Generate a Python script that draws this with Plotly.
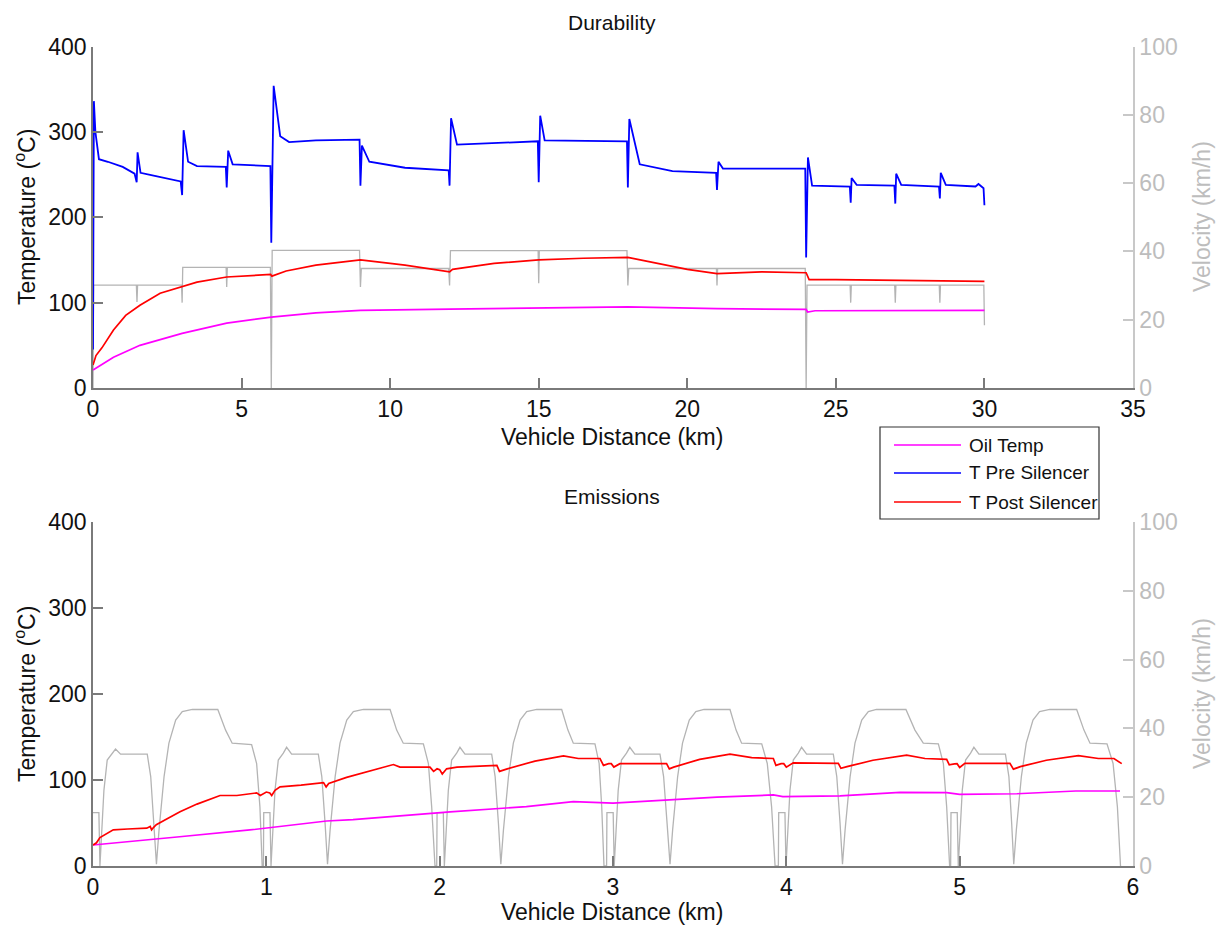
import plotly.graph_objects as go

W, H = 1220, 926

# ---------------- Durability run (0-30 km) ----------------
dur_vel_km = [0.0, 0.02, 1.46, 1.48, 1.50, 2.98, 3.00, 3.02, 4.48, 4.50, 4.52, 5.97, 6.00, 6.03,
              8.97, 9.00, 9.03, 11.97, 12.00, 12.03, 14.98, 15.00, 15.02, 17.97, 18.00, 18.03,
              20.98, 21.00, 21.02, 23.97, 24.00, 24.03, 25.48, 25.50, 25.52, 26.98, 27.00, 27.02,
              28.48, 28.50, 28.52, 29.98, 30.00]
dur_vel = [0, 30.1, 30.1, 25.2, 30.1, 30.1, 25.0, 35.3, 35.3, 29.6, 35.3, 35.3, 0, 40.3,
           40.3, 29.6, 35.0, 35.0, 30.0, 40.2, 40.2, 30.7, 40.2, 40.2, 30.0, 35.0,
           35.0, 30.0, 35.0, 35.0, 0, 30.1, 30.1, 25.0, 30.1, 30.1, 25.0, 30.1,
           30.1, 25.0, 30.1, 30.1, 18.4]

dur_pre_km = [0.0, 0.03, 0.08, 0.20, 0.50, 1.00, 1.40, 1.47, 1.50, 1.60, 2.00, 2.95, 3.00, 3.05,
              3.20, 3.50, 4.47, 4.50, 4.55, 4.70, 5.97, 6.00, 6.08, 6.30, 6.60, 7.50, 8.97,
              9.00, 9.05, 9.30, 10.50, 11.97, 12.00, 12.05, 12.25, 13.50, 14.97, 15.00, 15.05,
              15.20, 17.97, 18.00, 18.05, 18.40, 19.50, 20.97, 21.00, 21.05, 21.20, 23.97,
              24.00, 24.06, 24.20, 25.47, 25.50, 25.53, 25.70, 26.97, 27.00, 27.03, 27.20,
              28.47, 28.50, 28.53, 28.70, 29.70, 29.80, 29.97, 30.00]
dur_pre = [45, 336, 300, 268, 265, 259, 251, 241, 276, 252, 249, 242, 226, 302,
           265, 260, 259, 235, 278, 262, 260, 170, 354, 295, 288, 290, 291,
           237, 284, 265, 258, 255, 237, 316, 285, 287, 289, 241, 319,
           290, 289, 235, 315, 262, 254, 252, 232, 265, 257, 257,
           153, 270, 237, 236, 217, 246, 238, 237, 216, 251, 238,
           236, 222, 252, 238, 236, 239, 234, 214]

dur_post_km = [0.0, 0.10, 0.30, 0.69, 1.10, 1.58, 2.26, 3.00, 3.50, 4.50, 5.50, 5.98, 6.02,
               6.50, 7.50, 9.00, 10.50, 12.00, 12.10, 13.50, 15.00, 16.50, 18.00, 19.00,
               20.00, 21.00, 22.50, 24.00, 24.10, 25.00, 30.00]
dur_post = [27, 38, 47, 68, 85, 97, 111, 118.5, 124, 130, 132, 133, 131,
            137, 144, 150, 144, 136, 139, 146, 150, 152, 153, 146,
            139, 134, 136, 135, 127, 127, 125]

dur_oil_km = [0.0, 0.69, 1.58, 3.00, 4.50, 6.00, 7.50, 9.00, 12.00, 15.00, 18.00, 21.00,
              24.00, 24.05, 24.30, 30.00]
dur_oil = [21, 36, 50, 64, 76, 83, 88, 91, 92.5, 94, 95, 93,
           92, 89, 90.5, 91]

# ---------------- Emissions run (0-6 km) ----------------
emi_vel_km = [
    0.000, 0.034, 0.040, 0.063, 0.082, 0.111, 0.130, 0.159, 0.313, 0.333, 0.352, 0.366,
    0.381, 0.410, 0.438, 0.477, 0.515, 0.573, 0.720, 0.765, 0.803, 0.915, 0.944, 0.963, 0.976,
    0.983, 0.985, 1.021, 1.027, 1.050, 1.069, 1.098, 1.117, 1.146, 1.300, 1.320, 1.339, 1.353,
    1.368, 1.397, 1.425, 1.464, 1.502, 1.560, 1.714, 1.752, 1.790, 1.906, 1.935, 1.954, 1.973,
    1.983, 1.985, 2.021, 2.027, 2.050, 2.069, 2.098, 2.117, 2.146, 2.300, 2.320, 2.339, 2.353,
    2.368, 2.397, 2.425, 2.464, 2.502, 2.560, 2.704, 2.740, 2.771, 2.896, 2.920, 2.935, 2.948,
    2.963, 2.965, 3.001, 3.007, 3.030, 3.049, 3.078, 3.097, 3.126, 3.271, 3.292, 3.312, 3.329,
    3.344, 3.373, 3.401, 3.440, 3.478, 3.525, 3.675, 3.710, 3.742, 3.858, 3.890, 3.915, 3.935,
    3.954, 3.956, 3.992, 3.998, 4.021, 4.040, 4.069, 4.088, 4.117, 4.271, 4.291, 4.310, 4.324,
    4.339, 4.368, 4.396, 4.435, 4.473, 4.520, 4.690, 4.742, 4.790, 4.877, 4.906, 4.925, 4.942,
    4.948, 4.950, 4.986, 4.992, 5.015, 5.034, 5.063, 5.082, 5.111, 5.264, 5.284, 5.300, 5.312,
    5.327, 5.356, 5.384, 5.423, 5.461, 5.520, 5.675, 5.717, 5.752, 5.850, 5.885, 5.910, 5.928]
emi_vel = [
    15.5, 15.5, 0, 22.0, 30.8, 32.8, 34.0, 32.5, 32.5, 26.0, 12.4, 0.5,
    10.5, 26.0, 35.7, 42.4, 44.9, 45.5, 45.5, 39.5, 35.7, 35.3, 29.8, 17.2, 0,
    0, 15.5, 15.5, 0, 22.0, 30.8, 32.8, 34.5, 32.5, 32.5, 26.0, 12.4, 0.5,
    10.5, 26.0, 35.7, 42.4, 44.9, 45.5, 45.5, 39.5, 35.7, 35.5, 29.8, 17.2, 0,
    0, 15.5, 15.5, 0, 22.0, 30.8, 32.8, 34.5, 32.5, 32.5, 26.0, 12.4, 0.5,
    10.5, 26.0, 35.7, 42.4, 44.9, 45.5, 45.5, 39.5, 35.7, 35.5, 29.8, 17.2, 0,
    0, 15.5, 15.5, 0, 22.0, 30.8, 32.8, 34.5, 32.5, 32.5, 26.0, 12.4, 0.5,
    10.5, 26.0, 35.7, 42.4, 44.9, 45.5, 45.5, 39.5, 35.7, 35.5, 29.8, 17.2, 0,
    0, 15.5, 15.5, 0, 22.0, 30.8, 32.8, 34.5, 32.5, 32.5, 26.0, 12.4, 0.5,
    10.5, 26.0, 35.7, 42.4, 44.9, 45.5, 45.5, 39.5, 35.7, 35.5, 29.8, 17.2, 0,
    0, 15.5, 15.5, 0, 22.0, 30.8, 32.8, 34.5, 32.5, 32.5, 26.0, 12.4, 0.5,
    10.5, 26.0, 35.7, 42.4, 44.9, 45.5, 45.5, 39.5, 35.7, 35.5, 29.8, 17.2, 0]

emi_post_km = [0.0, 0.02, 0.04, 0.079, 0.117, 0.20, 0.31, 0.33, 0.338, 0.35, 0.365, 0.42, 0.502,
               0.60, 0.733, 0.83, 0.944, 0.965, 0.98, 1.00, 1.02, 1.031, 1.05, 1.079, 1.20,
               1.33, 1.345, 1.36, 1.463, 1.60, 1.733, 1.771, 1.944, 1.965, 1.985, 2.00, 2.015,
               2.04, 2.10, 2.33, 2.345, 2.39, 2.55, 2.714, 2.80, 2.925, 2.945, 2.975, 2.99,
               3.005, 3.04, 3.309, 3.325, 3.35, 3.50, 3.675, 3.80, 3.925, 3.94, 3.97, 3.985,
               4.00, 4.04, 4.30, 4.315, 4.35, 4.50, 4.694, 4.80, 4.925, 4.94, 4.97, 4.985,
               5.00, 5.03, 5.29, 5.31, 5.35, 5.50, 5.685, 5.80, 5.89, 5.935]
emi_post = [24.4, 27, 33, 38, 42, 43, 44, 46, 42, 45, 48, 54, 63,
            72, 82, 82, 85, 82, 84, 86, 85, 82, 88, 92, 94,
            97, 92, 96, 103, 111, 118, 115, 115, 110, 113, 112, 107,
            113, 115, 117, 110, 113, 122, 128, 125, 125, 117, 119, 119,
            115, 119, 119, 113, 115, 124, 130, 126, 125, 117, 119, 119,
            115, 120, 119.4, 113.6, 115.5, 123, 129, 125, 124, 117.6, 118.8, 119,
            114.5, 119.4, 119.4, 112.6, 115.5, 123, 128.3, 125, 125, 119]

emi_oil_km = [0.0, 0.30, 0.50, 0.905, 1.00, 1.348, 1.50, 2.06, 2.50, 2.771, 3.00, 3.348, 3.60,
              3.925, 3.98, 4.31, 4.656, 4.925, 5.00, 5.33, 5.67, 5.925]
emi_oil = [24.4, 30.5, 34, 41.9, 44, 52.3, 54, 63, 69, 74.8, 73, 77.5, 80,
           82.6, 80.6, 81.5, 85.7, 85.4, 83.2, 84, 87.2, 87.2]

# ---------------- styling ----------------
FONT = "Arial, Liberation Sans, sans-serif"
C_OIL, C_PRE, C_POST, C_VEL = "#ff00ff", "#0000ff", "#ff0000", "#b4b4b4"
AX_DARK, AX_LIGHT, TXT_LIGHT = "#7a7a7a", "#c8c8c8", "#bdbdbd"

x0, x1 = 93 / W, 1133 / W
top_dom = [1 - 388 / H, 1 - 46.5 / H]
bot_dom = [1 - 866 / H, 1 - 522 / H]

fig = go.Figure()

# velocity on the primary (right-hand) axes so temperatures draw above it
fig.add_trace(go.Scatter(x=dur_vel_km, y=dur_vel, mode="lines", xaxis="x", yaxis="y",
                         line=dict(color=C_VEL, width=1.3), showlegend=False))
fig.add_trace(go.Scatter(x=dur_oil_km, y=dur_oil, mode="lines", xaxis="x", yaxis="y2",
                         name="Oil Temp", line=dict(color=C_OIL, width=1.7)))
fig.add_trace(go.Scatter(x=dur_pre_km, y=dur_pre, mode="lines", xaxis="x", yaxis="y2",
                         name="T Pre Silencer", line=dict(color=C_PRE, width=1.8)))
fig.add_trace(go.Scatter(x=dur_post_km, y=dur_post, mode="lines", xaxis="x", yaxis="y2",
                         name="T Post Silencer", line=dict(color=C_POST, width=1.7)))

fig.add_trace(go.Scatter(x=emi_vel_km, y=emi_vel, mode="lines", xaxis="x2", yaxis="y3",
                         line=dict(color=C_VEL, width=1.3), showlegend=False))
fig.add_trace(go.Scatter(x=emi_oil_km, y=emi_oil, mode="lines", xaxis="x2", yaxis="y4",
                         line=dict(color=C_OIL, width=1.7), showlegend=False))
fig.add_trace(go.Scatter(x=emi_post_km, y=emi_post, mode="lines", xaxis="x2", yaxis="y4",
                         line=dict(color=C_POST, width=1.7), showlegend=False))

tick_font = dict(family=FONT, size=23, color="#111111")
light_font = dict(family=FONT, size=23, color=TXT_LIGHT)


def xax(dom_anchor, rng, dt):
    return dict(domain=[x0, x1], anchor=dom_anchor, range=rng, dtick=dt, tick0=0,
                automargin=False,
                showgrid=False, zeroline=False, showline=True, linecolor=AX_DARK,
                linewidth=1.5, ticks="inside", ticklen=10, tickcolor=AX_DARK,
                tickwidth=1.5, tickfont=tick_font, mirror=False)


def vel_ax(dom, anchor):
    return dict(domain=dom, anchor=anchor, side="right", range=[0, 100], dtick=20,
                automargin=False,
                showgrid=False, zeroline=False, showline=True, linecolor=AX_LIGHT,
                linewidth=1.5, ticks="inside", ticklen=10, tickcolor=AX_LIGHT,
                tickwidth=1.5, tickfont=light_font)


def temp_ax(over, anchor):
    return dict(overlaying=over, anchor=anchor, side="left", range=[0, 400], dtick=100,
                automargin=False,
                showgrid=False, zeroline=False, showline=True, linecolor=AX_DARK,
                linewidth=1.5, ticks="inside", ticklen=10, tickcolor=AX_DARK,
                tickwidth=1.5, tickfont=tick_font)


fig.update_layout(
    width=W, height=H,
    margin=dict(l=0, r=0, t=0, b=0, autoexpand=False),
    paper_bgcolor="white", plot_bgcolor="white",
    showlegend=False,
    font=dict(family=FONT),
    xaxis=xax("y", [0, 35], 5),
    yaxis=vel_ax(top_dom, "x"),
    yaxis2=temp_ax("y", "x"),
    xaxis2=xax("y3", [0, 6], 1),
    yaxis3=vel_ax(bot_dom, "x2"),
    yaxis4=temp_ax("y3", "x2"),
)

ann = []


def text(x, y, s, size, color="#111111", angle=0, xanchor="center"):
    ann.append(dict(x=x, y=y, xref="paper", yref="paper", text=s, showarrow=False,
                    textangle=angle, xanchor=xanchor, yanchor="middle",
                    font=dict(family=FONT, size=size, color=color)))


text(612 / W, 1 - 22 / H, "Durability", 21)
text(612 / W, 1 - 496 / H, "Emissions", 21)
text(612 / W, 1 - 437 / H, "Vehicle Distance (km)", 23)
text(612 / W, 1 - 912 / H, "Vehicle Distance (km)", 23)
text(25 / W, 1 - 217 / H, "Temperature (<sup>o</sup>C)", 23, angle=-90)
text(25 / W, 1 - 694 / H, "Temperature (<sup>o</sup>C)", 23, angle=-90)
text(1202 / W, 1 - 217 / H, "Velocity (km/h)", 23, color=TXT_LIGHT, angle=-90)
text(1202 / W, 1 - 694 / H, "Velocity (km/h)", 23, color=TXT_LIGHT, angle=-90)

# legend box drawn by hand
shapes = [dict(type="rect", xref="paper", yref="paper",
               x0=880 / W, x1=1099 / W, y0=1 - 519 / H, y1=1 - 427 / H,
               line=dict(color="#333333", width=1.2), fillcolor="white")]
for yy, name, col in [(445, "Oil Temp", C_OIL), (473, "T Pre Silencer", C_PRE),
                      (502, "T Post Silencer", C_POST)]:
    shapes.append(dict(type="line", xref="paper", yref="paper",
                       x0=894 / W, x1=961 / W, y0=1 - yy / H, y1=1 - yy / H,
                       line=dict(color=col, width=1.6)))
    text(967 / W, 1 - yy / H, name, 19, xanchor="left")

fig.update_layout(annotations=ann, shapes=shapes)

fig.write_html("out.html")
